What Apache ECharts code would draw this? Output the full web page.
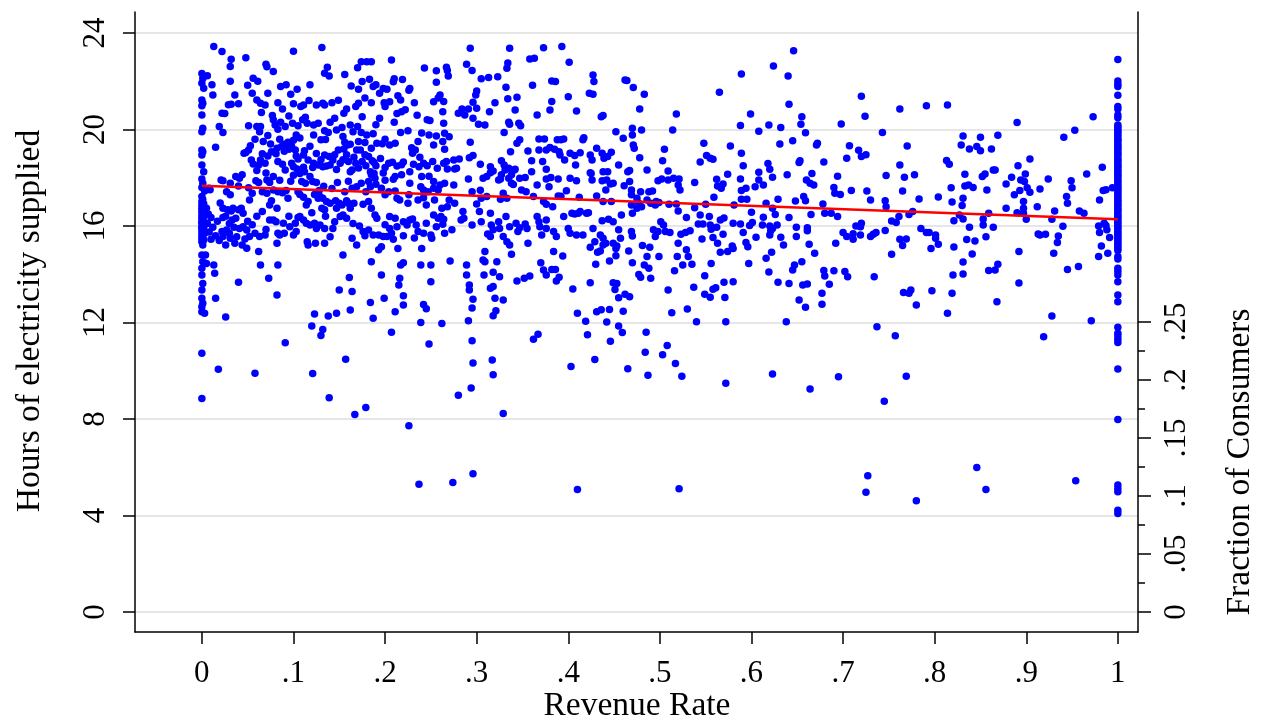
<!DOCTYPE html>
<html><head><meta charset="utf-8">
<script src="https://cdn.jsdelivr.net/npm/echarts@6/dist/echarts.min.js"></script>
<style>html,body{margin:0;padding:0;background:#fff}#c{width:1261px;height:723px}</style>
</head><body><div id="c"></div>
<script>
// ---- tick values ----
const xTicks = [0,0.1,0.2,0.3,0.4,0.5,0.6,0.7,0.8,0.9,1];
const yTicks = [0,4,8,12,16,20,24];
const fracTicks = [0,0.05,0.1,0.15,0.2,0.25];
const fracMinorTicks = [0.025,0.075,0.125,0.175,0.225];
// ---- fitted line ----
const fitX = [0,1];
const fitY = [17.67,16.28];
// ---- scatter: points at revenue rate 0 ----
const stripZero = [[0,22.32],[0.001,22.11],[0,21.92],[0.002,21.71],[0,21.22],[0.001,21.09],[0,20.98],[0,20.6],[0.001,20.05],[0,19.91],[0,19.15],[0.001,19.08],[0,18.94],[0,18.53],[0.002,18.25],[0,17.95],[0.001,17.77],[0,17.6],[0.003,17.45],[0,17.22],[0.001,17.1],[0,17.01],[0.002,16.92],[0,16.87],[0.001,16.8],[0,16.73],[0.003,16.66],[0,16.6],[0.001,16.52],[0,16.46],[0.002,16.4],[0,16.32],[0.001,16.25],[0,16.18],[0.003,16.14],[0,16.11],[0.001,16.04],[0,15.97],[0.002,15.93],[0,15.9],[0.001,15.83],[0,15.77],[0.003,15.7],[0,15.63],[0.001,15.56],[0,15.49],[0.002,15.42],[0,15.35],[0.001,15.21],[0,14.8],[0.001,14.52],[0,14.25],[0,13.97],[0.001,13.62],[0,13.35],[0,13.0],[0.001,12.8],[0,12.65],[0,12.45],[0.003,12.38],[0,10.72],[0,8.85],
[0.006,22.23],[0.011,21.85],[0.012,21.43],[0.008,17.56],[0.009,17.5],[0.005,16.73],[0.007,16.5],[0.01,16.35],[0.006,16.1],[0.012,15.95],[0.008,15.75],[0.015,15.6],[0.01,15.45],[0.004,14.8],[0.005,14.45],[0.013,14.38],[0.014,14.04]];
// ---- scatter: points at revenue rate 1 (hours) ----
const stripOneHours = [22.9,22.01,21.87,21.78,21.42,20.95,20.85,20.6,20.49,20.19,20.11,20.03,19.94,19.87,19.78,19.71,19.6,19.55,19.46,19.37,19.31,19.21,19.15,19.05,18.98,18.91,18.8,18.74,18.66,18.57,18.5,18.43,18.34,18.27,18.19,18.1,18.04,17.95,17.86,17.79,17.7,17.63,17.54,17.47,17.39,17.31,17.22,17.14,17.06,16.99,16.9,16.83,16.74,16.66,16.59,16.5,16.41,16.35,16.26,16.18,16.1,16.02,15.94,15.87,15.78,15.7,15.63,15.54,15.46,15.39,15.3,15.22,15.15,15.06,14.98,14.73,14.63,14.25,14.11,13.97,13.69,13.14,12.86,11.8,11.55,11.44,11.3,11.17,10.07,7.98,5.26,5.12,4.98,4.22,4.08];
// ---- scatter: revenue rate 0 - 0.26 ----
const cloudA = [[0.013,23.44],[0.022,23.23],[0.032,22.91],[0.048,22.97],[0.031,22.61],[0.1,23.24],[0.131,23.4],[0.07,22.7],[0.071,22.6],[0.078,22.4],[0.031,22.0],[0.056,22.12],[0.061,22.0],[0.05,21.83],[0.137,22.58],[0.134,22.33],[0.139,22.22],[0.174,22.81],[0.18,22.81],[0.185,22.81],[0.17,22.56],[0.207,22.88],[0.156,22.28],[0.163,21.8],[0.175,21.99],[0.183,22.08],[0.171,21.67],[0.19,21.85],[0.187,21.78],[0.198,21.7],[0.202,21.67],[0.21,22.1],[0.209,21.98],[0.219,22.07],[0.243,22.55],[0.256,22.43],[0.227,21.7],[0.226,21.63],[0.256,21.96],
[0.036,21.43],[0.04,21.07],[0.032,21.05],[0.029,21.03],[0.022,20.67],[0.025,20.66],[0.055,21.5],[0.06,21.22],[0.064,21.09],[0.069,21.02],[0.072,21.5],[0.083,21.11],[0.086,21.78],[0.092,21.85],[0.097,21.46],[0.104,21.67],[0.1,21.07],[0.108,20.95],[0.111,21.02],[0.117,21.2],[0.118,21.85],[0.125,21.02],[0.132,21.09],[0.134,21.02],[0.142,21.11],[0.149,21.21],[0.145,20.47],[0.155,20.67],[0.168,20.95],[0.171,21.09],[0.178,21.3],[0.185,21.11],[0.194,21.5],[0.199,21.11],[0.205,21.15],[0.2,20.95],[0.175,20.53],[0.194,20.47],[0.214,21.4],[0.217,21.22],[0.213,20.66],[0.218,20.74],[0.222,20.82],[0.232,21.11],[0.235,20.59],[0.249,20.37],[0.253,21.15],[0.258,21.3],
[0.019,20.12],[0.023,19.87],[0.015,19.26],[0.051,20.16],[0.06,20.12],[0.063,19.91],[0.064,20.12],[0.072,19.75],[0.077,20.58],[0.078,20.4],[0.08,20.19],[0.083,20.01],[0.086,20.3],[0.091,20.12],[0.095,20.56],[0.099,20.26],[0.105,20.16],[0.103,19.77],[0.113,20.51],[0.115,20.26],[0.122,20.19],[0.127,20.26],[0.122,19.77],[0.134,19.95],[0.138,19.87],[0.135,19.59],[0.13,19.57],[0.147,19.98],[0.153,20.08],[0.162,20.19],[0.165,19.91],[0.17,20.12],[0.174,19.87],[0.171,19.5],[0.178,19.46],[0.18,19.77],[0.187,19.82],[0.191,19.43],[0.197,19.41],[0.185,19.22],[0.156,19.47],[0.159,19.36],[0.162,19.39],[0.154,19.71],[0.217,19.87],[0.205,19.36],[0.211,19.43],[0.229,19.24],[0.236,19.5],[0.246,20.4],[0.248,19.77],[0.253,19.36],[0.256,19.73],
[0.048,19.05],[0.046,19.01],[0.051,19.15],[0.053,19.33],[0.066,18.99],[0.072,18.9],[0.076,19.08],[0.064,18.74],[0.054,18.74],[0.056,18.57],[0.062,18.53],[0.069,18.6],[0.081,18.99],[0.082,19.22],[0.087,19.29],[0.09,19.39],[0.094,19.47],[0.098,19.29],[0.095,19.18],[0.102,19.15],[0.103,18.9],[0.105,18.78],[0.083,18.67],[0.088,18.56],[0.091,18.32],[0.098,18.6],[0.1,18.46],[0.112,19.12],[0.111,18.94],[0.116,18.74],[0.122,18.6],[0.111,18.43],[0.104,18.36],[0.107,18.18],[0.112,18.25],[0.121,18.42],[0.127,18.53],[0.132,18.46],[0.136,18.49],[0.134,18.94],[0.139,18.88],[0.143,18.74],[0.14,18.53],[0.147,18.34],[0.149,19.15],[0.155,19.19],[0.154,18.75],[0.16,18.67],[0.164,18.32],[0.162,18.25],[0.169,19.15],[0.173,19.15],[0.168,18.6],[0.175,18.67],[0.179,18.5],[0.182,18.88],[0.186,18.7],[0.188,18.63],[0.19,18.5],[0.184,18.25],[0.188,18.18],[0.2,18.42],[0.204,18.6],[0.208,18.64],[0.213,18.49],[0.218,18.54],[0.22,18.65],[0.209,17.94],[0.211,18.05],[0.218,18.12],[0.23,19.01],[0.233,19.15],[0.238,18.85],[0.231,18.56],[0.237,18.46],[0.242,18.6],[0.246,18.5],[0.252,18.67],[0.257,18.39],[0.248,18.06],[0.227,18.25],[0.24,18.05],[0.253,17.84],
[0.021,17.91],[0.023,17.88],[0.031,17.77],[0.027,17.42],[0.031,17.29],[0.037,18.05],[0.041,17.98],[0.044,18.12],[0.04,17.66],[0.051,17.59],[0.055,17.36],[0.052,17.08],[0.059,17.88],[0.062,17.8],[0.071,17.91],[0.074,17.8],[0.066,17.42],[0.071,17.36],[0.078,17.49],[0.083,17.42],[0.088,17.38],[0.092,17.47],[0.094,17.15],[0.076,17.05],[0.074,16.87],[0.082,16.73],[0.109,17.84],[0.113,17.77],[0.105,17.42],[0.107,17.31],[0.111,17.19],[0.121,17.84],[0.123,17.31],[0.128,17.47],[0.116,17.01],[0.114,16.87],[0.127,17.15],[0.129,17.22],[0.132,17.15],[0.136,17.01],[0.14,16.94],[0.134,16.67],[0.131,16.73],[0.146,17.05],[0.15,16.94],[0.153,16.87],[0.158,17.05],[0.16,16.94],[0.162,16.73],[0.166,16.94],[0.156,17.42],[0.164,17.56],[0.169,17.63],[0.174,17.77],[0.185,18.12],[0.189,17.98],[0.182,17.84],[0.19,17.73],[0.184,17.63],[0.179,17.42],[0.182,17.01],[0.176,16.9],[0.185,16.73],[0.196,17.56],[0.2,17.29],[0.204,17.42],[0.211,17.45],[0.213,17.15],[0.216,17.08],[0.227,17.77],[0.226,17.29],[0.239,17.63],[0.242,17.49],[0.247,17.42],[0.253,17.56],[0.236,17.08],[0.242,17.17],[0.245,16.87],[0.254,17.08],[0.225,16.94],[0.258,17.49],
[0.023,16.73],[0.028,16.67],[0.023,16.35],[0.032,16.62],[0.034,16.73],[0.04,16.67],[0.043,16.73],[0.045,16.53],[0.033,16.25],[0.037,16.32],[0.022,15.77],[0.027,15.83],[0.023,15.56],[0.026,15.21],[0.031,15.49],[0.036,15.28],[0.041,15.9],[0.045,15.97],[0.049,15.83],[0.047,15.46],[0.052,15.56],[0.044,15.21],[0.049,15.08],[0.058,15.7],[0.063,15.56],[0.062,14.94],[0.069,15.63],[0.074,16.25],[0.078,16.25],[0.081,16.18],[0.083,15.7],[0.085,15.63],[0.082,15.28],[0.089,16.11],[0.096,15.97],[0.102,16.11],[0.105,16.35],[0.107,16.39],[0.111,16.25],[0.103,15.77],[0.1,15.63],[0.114,16.11],[0.118,16.04],[0.123,16.11],[0.115,15.35],[0.116,15.21],[0.124,15.28],[0.125,15.9],[0.129,16.04],[0.134,15.9],[0.134,15.28],[0.143,15.9],[0.145,16.18],[0.151,16.39],[0.154,16.46],[0.158,16.32],[0.147,16.73],[0.164,15.49],[0.169,15.21],[0.154,14.8],[0.176,15.77],[0.182,15.83],[0.189,16.46],[0.191,16.32],[0.187,15.63],[0.193,15.63],[0.198,15.56],[0.202,15.56],[0.196,15.14],[0.193,15.01],[0.185,14.52],[0.205,16.39],[0.211,16.32],[0.213,15.97],[0.205,15.9],[0.207,15.7],[0.209,15.45],[0.214,15.07],[0.22,16.18],[0.224,16.04],[0.227,16.25],[0.23,16.29],[0.234,16.04],[0.236,15.77],[0.242,15.7],[0.25,15.63],[0.251,15.49],[0.253,16.46],[0.258,16.32],[0.245,16.11],[0.24,15.07],[0.256,15.97],
[0.04,13.67],[0.015,13.0],[0.064,14.38],[0.073,13.83],[0.083,14.38],[0.082,13.14],[0.15,13.35],[0.164,13.28],[0.161,13.86],[0.196,13.97],[0.199,13.0],[0.217,14.38],[0.22,14.48],[0.22,13.11],[0.215,13.55],[0.216,13.83],[0.239,14.38],[0.25,14.38],[0.25,13.69],
[0.058,19.6],[0.067,19.5],[0.075,19.4],[0.085,19.6],[0.09,19.1],[0.1,19.55],[0.107,19.65],[0.118,19.3],[0.125,19.0],[0.13,18.75],[0.145,18.95],[0.151,18.6],[0.158,18.95],[0.166,18.85],[0.171,18.4],[0.178,18.95],[0.195,18.8],[0.198,18.2],[0.06,18.3],[0.07,18.2],[0.078,18.05],[0.085,17.9],[0.097,17.85],[0.1,18.1],[0.118,18.05],[0.125,17.8],[0.133,17.65],[0.142,17.55],[0.148,17.8],[0.16,17.85],[0.2,17.9],[0.02,16.95],[0.026,16.4],[0.03,16.1],[0.035,15.95],[0.017,16.2],[0.019,15.4],[0.03,15.7],[0.038,15.55],[0.05,16.2],[0.055,16.05],[0.06,16.4],[0.066,16.6],[0.07,15.85],[0.09,15.7],[0.095,16.4],[0.12,16.55],[0.135,16.4],[0.14,15.55],[0.165,16.1],[0.172,16.0],[0.178,15.6],[0.2,16.05],[0.22,15.6],[0.232,15.5],[0.065,20.7],[0.088,20.85],[0.11,20.4],[0.14,20.3],[0.158,20.85],[0.19,20.2],[0.21,20.3],[0.225,19.95],[0.24,19.85],[0.2,19.6]];
// ---- scatter: revenue rate 0.26 - 0.53 ----
const cloudB = [[0.293,23.37],[0.336,23.37],[0.373,23.39],[0.393,23.44],[0.358,22.92],[0.363,22.95],[0.401,22.79],[0.289,22.7],[0.295,22.44],[0.267,22.58],[0.268,22.44],[0.269,22.22],[0.334,22.76],[0.333,22.54],[0.323,22.19],[0.305,22.1],[0.313,22.15],[0.382,22.01],[0.386,21.99],[0.361,21.83],[0.332,21.75],[0.427,22.26],[0.428,21.99],[0.423,21.5],[0.427,21.46],[0.462,22.05],[0.464,22.03],[0.471,21.74],[0.483,21.46],[0.3,21.6],[0.299,21.43],[0.296,21.13],[0.334,21.27],[0.344,21.34],[0.32,21.11],[0.314,20.74],[0.342,20.81],[0.366,20.6],[0.38,20.81],[0.382,21.16],[0.4,21.36],[0.409,20.77],[0.436,20.53],[0.438,20.58],[0.478,20.85],[0.518,20.64],[0.28,20.67],[0.284,20.85],[0.287,20.6],[0.291,20.85],[0.296,20.47],[0.3,20.88],[0.26,21.43],[0.264,21.16],[0.263,20.74],
[0.264,20.26],[0.265,19.84],[0.27,19.7],[0.263,19.5],[0.265,19.18],[0.267,18.67],[0.264,18.6],[0.275,18.74],[0.281,18.78],[0.268,18.36],[0.276,18.36],[0.278,18.39],[0.293,19.47],[0.292,18.83],[0.296,18.92],[0.302,20.22],[0.309,20.19],[0.304,18.56],[0.33,19.88],[0.335,20.3],[0.336,20.22],[0.346,20.26],[0.348,20.16],[0.344,19.43],[0.347,19.57],[0.337,19.08],[0.327,18.7],[0.33,18.53],[0.315,18.46],[0.318,18.28],[0.307,17.98],[0.311,18.05],[0.335,18.39],[0.342,18.35],[0.324,17.91],[0.326,17.95],[0.356,19.11],[0.36,18.7],[0.368,19.61],[0.374,19.61],[0.368,19.15],[0.376,19.15],[0.38,19.25],[0.385,19.18],[0.39,19.08],[0.388,19.57],[0.392,19.57],[0.395,19.61],[0.372,18.67],[0.376,18.35],[0.36,18.25],[0.366,17.7],[0.391,18.94],[0.396,18.74],[0.402,19.01],[0.407,18.92],[0.413,19.04],[0.408,18.53],[0.417,19.66],[0.416,19.57],[0.424,18.94],[0.426,18.74],[0.431,19.22],[0.437,19.01],[0.439,18.81],[0.443,18.88],[0.447,19.06],[0.452,19.91],[0.46,19.64],[0.47,20.05],[0.47,19.77],[0.471,19.36],[0.472,19.22],[0.478,18.83],[0.455,18.53],[0.465,18.25],[0.467,18.3],[0.486,18.32],[0.48,19.98],[0.503,18.7],[0.505,19.18],[0.514,19.98],[0.509,18.28],[0.438,18.25],[0.443,18.25],[0.425,18.18],
[0.26,17.7],[0.265,17.77],[0.275,17.7],[0.27,17.08],[0.276,16.94],[0.268,16.8],[0.262,16.73],[0.291,17.95],[0.295,17.42],[0.304,17.48],[0.315,18.21],[0.3,16.91],[0.305,17.15],[0.311,17.22],[0.327,18.12],[0.331,18.32],[0.335,17.98],[0.338,18.12],[0.341,18.32],[0.338,17.77],[0.34,17.72],[0.329,17.36],[0.326,17.11],[0.333,17.15],[0.347,17.98],[0.353,18.01],[0.354,17.42],[0.349,17.49],[0.362,17.22],[0.376,17.95],[0.381,18.01],[0.379,17.63],[0.389,17.95],[0.398,17.46],[0.373,17.01],[0.376,16.9],[0.383,16.8],[0.389,17.24],[0.392,17.23],[0.402,17.98],[0.409,17.87],[0.424,18.21],[0.426,17.91],[0.431,17.24],[0.437,17.88],[0.442,17.91],[0.441,17.49],[0.446,17.74],[0.438,17.01],[0.447,17.01],[0.461,17.67],[0.467,17.84],[0.469,17.49],[0.469,17.29],[0.475,17.15],[0.477,16.94],[0.48,16.8],[0.479,17.42],[0.488,17.42],[0.492,17.45],[0.469,16.87],[0.475,16.73],[0.486,17.08],[0.49,16.94],[0.495,16.87],[0.496,17.01],[0.499,16.97],[0.498,17.87],[0.502,17.95],[0.509,17.91],[0.515,17.98],[0.521,17.95],[0.52,17.7],[0.522,17.49],[0.51,16.9],[0.518,16.91],[0.52,16.62],[0.529,16.35],[0.449,17.77],[0.412,17.19],[0.411,16.53],[0.404,16.53],[0.407,16.5],[0.413,16.6],[0.395,16.39],[0.42,16.53],[0.422,16.55],[0.437,16.22],[0.444,16.28],[0.449,16.18],[0.458,16.46],[0.47,16.53],
[0.261,16.39],[0.264,16.28],[0.263,16.07],[0.265,15.7],[0.273,15.84],[0.285,16.6],[0.286,16.32],[0.283,16.25],[0.295,16.04],[0.303,16.6],[0.305,16.18],[0.315,16.53],[0.316,16.04],[0.318,15.84],[0.325,15.9],[0.312,15.67],[0.315,15.56],[0.324,16.18],[0.332,16.39],[0.336,15.97],[0.329,15.56],[0.333,15.35],[0.336,15.21],[0.338,14.83],[0.343,16.11],[0.347,15.93],[0.345,15.77],[0.353,16.08],[0.355,15.9],[0.356,15.28],[0.366,16.39],[0.368,16.18],[0.369,15.97],[0.376,16.25],[0.376,15.9],[0.371,15.63],[0.384,15.77],[0.387,15.56],[0.384,14.94],[0.394,14.76],[0.4,15.9],[0.402,15.7],[0.409,15.63],[0.416,15.63],[0.427,15.9],[0.424,15.12],[0.429,15.35],[0.432,14.91],[0.435,14.96],[0.438,15.21],[0.441,15.28],[0.43,14.41],[0.435,15.63],[0.438,15.49],[0.449,15.28],[0.452,15.07],[0.453,15.17],[0.455,15.84],[0.457,15.49],[0.452,14.77],[0.445,14.55],[0.469,15.77],[0.47,15.59],[0.466,14.96],[0.47,14.48],[0.481,15.19],[0.489,15.12],[0.483,14.38],[0.488,14.25],[0.477,13.99],[0.479,13.87],[0.49,13.83],[0.486,14.73],[0.499,14.73],[0.498,15.77],[0.501,16.18],[0.504,16.04],[0.506,15.77],[0.511,15.73],[0.493,15.84],[0.495,15.56],[0.52,15.28],[0.523,15.66],[0.528,15.73],[0.529,15.01],[0.531,14.73],[0.519,14.73],[0.525,14.38],[0.516,14.14],[0.509,13.35],
[0.271,14.55],[0.289,14.38],[0.289,13.97],[0.292,13.55],[0.292,13.35],[0.296,12.96],[0.308,13.97],[0.309,14.52],[0.309,14.94],[0.307,14.59],[0.318,14.08],[0.325,13.9],[0.322,14.52],[0.315,13.42],[0.318,13.49],[0.32,13.0],[0.329,12.93],[0.344,13.72],[0.352,13.83],[0.358,13.93],[0.37,14.48],[0.373,14.18],[0.376,13.97],[0.382,14.2],[0.386,14.2],[0.387,13.72],[0.39,13.87],[0.405,13.39],[0.424,13.65],[0.449,13.65],[0.453,13.62],[0.451,13.37],[0.455,13.03],[0.462,13.17],[0.467,13.07]];
// ---- scatter: revenue rate 0.53 - 0.81 ----
const cloudC = [[0.646,23.26],[0.624,22.63],[0.64,22.22],[0.589,22.3],[0.565,21.54],[0.641,21.05],[0.599,20.64],[0.588,20.17],[0.608,19.93],[0.619,20.19],[0.632,20.08],[0.655,20.53],[0.654,20.22],[0.659,19.86],[0.645,19.53],[0.631,19.4],[0.548,19.43],[0.577,19.32],[0.589,19.01],[0.551,18.92],[0.555,18.81],[0.558,18.77],[0.544,18.65],[0.591,18.5],[0.618,18.59],[0.62,18.35],[0.608,18.23],[0.538,17.8],[0.562,17.94],[0.563,17.66],[0.567,17.56],[0.569,17.74],[0.574,18.14],[0.588,17.95],[0.589,17.47],[0.594,17.56],[0.608,17.91],[0.604,17.63],[0.613,17.7],[0.623,18.02],[0.639,18.12],[0.653,18.7],[0.652,18.63],[0.666,18.18],[0.66,17.91],[0.664,17.77],[0.668,17.7],[0.672,19.43],[0.671,19.36],[0.679,18.65],[0.704,18.81],[0.707,19.33],[0.717,19.14],[0.72,18.88],[0.725,18.95],[0.698,20.23],[0.72,21.38],[0.724,20.55],[0.743,19.87],[0.762,20.85],[0.791,20.98],[0.77,19.32],[0.762,18.53],[0.767,18.02],[0.778,18.12],[0.747,18.09],[0.694,18.06],[0.69,17.6],[0.691,17.36],[0.697,17.31],[0.709,17.47],[0.726,17.45],[0.73,17.08],[0.746,17.05],[0.747,16.8],[0.765,17.45],[0.783,17.12],[0.804,17.2],[0.559,17.19],[0.55,16.9],[0.538,16.76],[0.581,16.87],[0.589,17.11],[0.595,17.11],[0.616,16.94],[0.623,16.73],[0.629,17.11],[0.648,17.04],[0.657,17.22],[0.659,17.05],[0.678,16.91],[0.68,16.53],[0.687,16.53],[0.694,16.39],[0.665,16.48],[0.641,16.35],[0.626,16.48],[0.613,16.36],[0.6,16.57],[0.57,16.33],[0.566,16.25],[0.554,16.39],[0.544,16.46],[0.533,15.8],[0.542,16.08],[0.547,16.08],[0.555,16.04],[0.556,15.86],[0.562,15.95],[0.58,16.11],[0.588,16.08],[0.598,16.02],[0.601,16.14],[0.612,16.04],[0.62,16.0],[0.621,15.8],[0.623,15.9],[0.628,16.04],[0.649,15.95],[0.661,15.93],[0.661,15.8],[0.649,15.56],[0.632,15.53],[0.62,15.63],[0.605,15.53],[0.594,15.32],[0.596,15.14],[0.591,15.73],[0.579,15.17],[0.58,15.07],[0.574,14.94],[0.566,14.91],[0.563,15.28],[0.558,15.52],[0.546,15.46],[0.569,15.66],[0.535,14.41],[0.556,14.44],[0.549,13.94],[0.537,13.46],[0.549,13.17],[0.555,13.05],[0.558,13.38],[0.561,13.44],[0.57,13.67],[0.58,13.69],[0.571,13.04],[0.597,14.45],[0.616,14.66],[0.622,14.91],[0.619,14.09],[0.629,13.67],[0.635,15.21],[0.641,13.62],[0.645,14.18],[0.647,14.38],[0.655,14.52],[0.656,13.55],[0.661,13.6],[0.652,12.93],[0.669,14.87],[0.663,15.24],[0.679,14.15],[0.68,13.93],[0.685,13.58],[0.677,13.21],[0.69,14.14],[0.692,15.28],[0.7,15.73],[0.704,15.56],[0.711,15.45],[0.711,15.68],[0.714,16.0],[0.719,15.97],[0.72,16.11],[0.719,15.63],[0.73,15.56],[0.733,15.66],[0.736,15.73],[0.702,14.11],[0.705,13.9],[0.734,13.9],[0.746,15.81],[0.753,14.83],[0.753,16.21],[0.758,16.14],[0.761,16.39],[0.762,15.45],[0.765,15.19],[0.769,15.46],[0.766,13.24],[0.772,13.21],[0.774,13.35],[0.772,16.48],[0.776,16.6],[0.785,15.9],[0.791,15.73],[0.794,15.73],[0.801,15.63],[0.801,15.49],[0.796,15.07],[0.797,13.32],[0.804,15.24]];
// ---- scatter: revenue rate 0.81 - 0.995 ----
const cloudD = [[0.814,21.02],[0.89,20.29],[0.973,20.53],[0.953,19.97],[0.941,19.68],[0.831,19.73],[0.829,19.36],[0.838,19.19],[0.846,19.29],[0.85,19.12],[0.85,19.68],[0.862,19.19],[0.869,19.76],[0.813,18.71],[0.816,18.56],[0.833,18.14],[0.852,18.05],[0.855,18.16],[0.864,18.32],[0.866,18.32],[0.891,18.5],[0.904,18.78],[0.899,18.16],[0.884,18.02],[0.878,17.74],[0.894,17.91],[0.898,17.84],[0.901,17.59],[0.893,17.47],[0.887,17.29],[0.897,17.01],[0.904,17.4],[0.915,17.53],[0.924,17.95],[0.949,17.87],[0.95,17.59],[0.966,18.16],[0.983,18.43],[0.984,17.47],[0.987,17.5],[0.98,17.08],[0.994,17.59],[0.944,17.22],[0.945,16.94],[0.818,17.59],[0.819,16.99],[0.831,17.15],[0.83,16.85],[0.833,17.66],[0.837,17.7],[0.842,17.6],[0.857,17.49],[0.859,16.53],[0.853,16.29],[0.853,16.04],[0.864,15.95],[0.856,15.55],[0.844,15.38],[0.835,15.44],[0.838,15.95],[0.831,16.29],[0.821,16.22],[0.827,16.46],[0.878,16.73],[0.89,16.55],[0.897,16.73],[0.897,16.53],[0.9,16.28],[0.912,16.8],[0.928,16.28],[0.931,16.62],[0.94,15.99],[0.913,15.67],[0.915,15.63],[0.921,15.66],[0.935,15.59],[0.934,15.32],[0.93,14.87],[0.958,16.62],[0.963,16.53],[0.979,16.0],[0.98,15.73],[0.985,16.11],[0.987,16.02],[0.988,15.84],[0.991,15.52],[0.982,15.17],[0.979,14.73],[0.989,14.87],[0.821,15.13],[0.841,14.84],[0.831,14.51],[0.82,13.97],[0.831,14.01],[0.819,13.21],[0.859,14.15],[0.866,14.18],[0.869,14.41],[0.892,14.94],[0.892,13.64],[0.945,14.2],[0.957,14.32]];
// ---- scatter: low hours (below ~13) ----
const lowPoints = [[0.026,12.23],[0.018,10.06],[0.058,9.9],[0.091,11.16],[0.12,11.85],[0.123,12.35],[0.132,11.71],[0.13,11.46],[0.121,9.89],[0.138,12.27],[0.147,12.38],[0.139,8.88],[0.157,10.48],[0.162,12.52],[0.167,8.19],[0.179,8.48],[0.184,12.83],[0.187,12.18],[0.207,11.59],[0.211,12.45],[0.22,12.72],[0.226,7.72],[0.237,5.29],[0.239,12.0],[0.242,12.75],[0.245,12.57],[0.248,11.11],[0.262,11.96],[0.274,5.37],[0.28,8.98],[0.291,12.07],[0.295,12.6],[0.295,11.24],[0.296,10.32],[0.294,9.28],[0.296,5.73],[0.317,10.44],[0.318,9.83],[0.318,12.28],[0.321,12.49],[0.329,8.23],[0.362,11.3],[0.367,11.51],[0.403,10.18],[0.41,5.08],[0.41,12.38],[0.419,12.05],[0.421,11.49],[0.429,10.47],[0.431,12.45],[0.436,12.53],[0.445,12.54],[0.442,12.02],[0.455,11.85],[0.459,11.58],[0.446,11.22],[0.46,12.47],[0.465,10.08],[0.484,10.77],[0.487,9.81],[0.485,11.59],
[0.513,12.4],[0.53,12.56],[0.54,12.03],[0.572,12.03],[0.638,12.03],[0.659,12.63],[0.677,12.76],[0.78,12.72],[0.814,12.38],[0.868,12.86],[0.928,12.27],[0.971,12.07],[0.737,11.82],[0.757,11.45],[0.919,11.41],[0.508,11.05],[0.503,10.66],[0.517,10.3],[0.524,9.77],[0.572,9.48],[0.623,9.86],[0.664,9.24],[0.695,9.75],[0.769,9.77],[0.745,8.74],[0.521,5.11],[0.727,5.65],[0.725,4.96],[0.78,4.61],[0.846,5.99],[0.856,5.08],[0.954,5.44]];

const FONT = '"Liberation Serif","Times New Roman",Times,serif';
function fmt(v){ if (v === 0) return '0'; return String(+v.toFixed(3)).replace(/^0\./, '.'); }

const allPoints = stripZero.concat(stripOneHours.map(h => [1, h]), cloudA, cloudB, cloudC, cloudD, lowPoints);

const chart = echarts.init(document.getElementById('c'), null, {renderer: 'canvas'});
const axisCol = '#000';
const TICK_FS = 31, TITLE_FS = 33.5;
chart.setOption({
  animation: false,
  backgroundColor: '#fff',
  grid: {left: 135, right: 123, top: 12, bottom: 91, containLabel: false},
  xAxis: {
    type: 'value', min: -0.073, max: 1.022,
    axisLine: {show: true, onZero: false, lineStyle: {color: axisCol, width: 1.5}},
    axisTick: {show: true, length: 12, customValues: xTicks, lineStyle: {color: axisCol, width: 1.5}},
    axisLabel: {customValues: xTicks, formatter: fmt, fontFamily: FONT, fontSize: TICK_FS, color: '#000', margin: 26},
    splitLine: {show: false}
  },
  yAxis: [{
    type: 'value', position: 'left', min: -0.83, max: 24.87,
    axisLine: {show: true, onZero: false, lineStyle: {color: axisCol, width: 1.5}},
    axisTick: {show: true, length: 12, customValues: yTicks, lineStyle: {color: axisCol, width: 1.5}},
    axisLabel: {customValues: yTicks, formatter: fmt, rotate: 90, fontFamily: FONT, fontSize: TICK_FS, color: '#000', margin: 24},
    splitLine: {show: true, lineStyle: {color: '#e6e6e6', width: 2}}
  }, {
    type: 'value', position: 'right', min: -0.01724, max: 0.5172,
    axisLine: {show: true, onZero: false, lineStyle: {color: axisCol, width: 1.5}},
    axisTick: {show: true, length: 13, customValues: fracTicks, lineStyle: {color: axisCol, width: 1.5}},
    axisLabel: {customValues: fracTicks, formatter: fmt, rotate: 90, fontFamily: FONT, fontSize: TICK_FS, color: '#000', margin: 23},
    splitLine: {show: false}
  }, {
    type: 'value', position: 'right', min: -0.01724, max: 0.5172,
    axisLine: {show: false, onZero: false},
    axisTick: {show: true, length: 7, customValues: fracMinorTicks, lineStyle: {color: axisCol, width: 1.5}},
    axisLabel: {show: false},
    splitLine: {show: false}
  }],
  graphic: [
    {type: 'text', x: 637, y: 706, silent: true,
     style: {text: 'Revenue Rate', fontFamily: FONT, fontSize: TITLE_FS, fill: '#000', align: 'center', verticalAlign: 'middle', textAlign: 'center', textVerticalAlign: 'middle'}},
    {type: 'text', x: 30, y: 321, rotation: Math.PI / 2, silent: true,
     style: {text: 'Hours of electricity supplied', fontFamily: FONT, fontSize: TITLE_FS, fill: '#000', align: 'center', verticalAlign: 'middle', textAlign: 'center', textVerticalAlign: 'middle'}},
    {type: 'text', x: 1240, y: 462, rotation: Math.PI / 2, silent: true,
     style: {text: 'Fraction of Consumers', fontFamily: FONT, fontSize: TITLE_FS, fill: '#000', align: 'center', verticalAlign: 'middle', textAlign: 'center', textVerticalAlign: 'middle'}}
  ],
  series: [{
    type: 'scatter', xAxisIndex: 0, yAxisIndex: 0,
    data: allPoints, symbol: 'circle', symbolSize: 7.5,
    itemStyle: {color: '#0000ff', opacity: 1}, z: 2
  }, {
    type: 'line', xAxisIndex: 0, yAxisIndex: 0,
    data: fitX.map((x, i) => [x, fitY[i]]), symbol: 'none',
    lineStyle: {color: '#ff0000', width: 2.5}, z: 3
  }]
});
</script>
</body></html>
